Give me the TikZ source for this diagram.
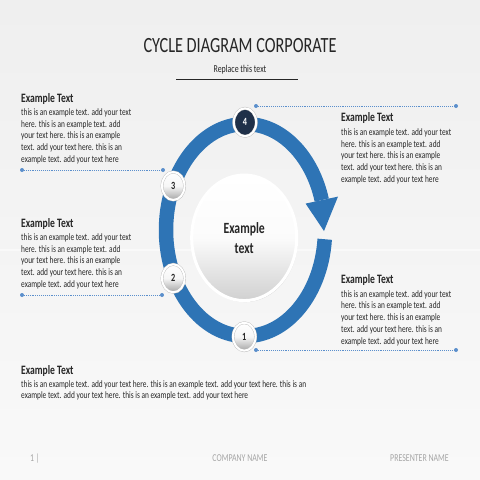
\documentclass[tikz,border=0pt]{standalone}
\usepackage{fontspec}
\setmainfont{Carlito}[FakeStretch=0.75]
\usetikzlibrary{shapes.geometric,shadows}
\definecolor{ringblue}{HTML}{2E74B5}
\definecolor{navy}{HTML}{1F3049}
\definecolor{connblue}{HTML}{5B8FCC}
\definecolor{txt}{HTML}{262626}
\definecolor{foot}{HTML}{A6A6A6}
\definecolor{bgtop}{HTML}{EFEFEF}
\definecolor{bgbot}{HTML}{F9F9F9}
\definecolor{mkgray}{HTML}{A5A5A5}
\definecolor{mkedge}{HTML}{BDBDBD}
\definecolor{hubgray}{HTML}{D0D0D0}
\newcommand\bodyfont{\fontsize{9.8}{11.7}\selectfont}
\newcommand\blocktext[1]{\parbox[t]{300pt}{\raggedright #1}}
\newcommand\stdtext{\blocktext{this is an example text. add your text\\here. this is an example text. add\\your text here. this is an example\\text. add your text here. this is an\\example text. add your text here}}
\begin{document}
\begin{tikzpicture}[x=1pt,y=-1pt,
  head/.style={anchor=base west, inner sep=0, font=\bfseries\fontsize{12.8}{14}\selectfont, text=txt},
  body/.style={anchor=base west, inner sep=0, font=\bodyfont, text=txt},
  marker/.style={ellipse, minimum width=22.5pt, minimum height=28pt, inner sep=0,
    draw=mkedge, double=white, double distance=2pt,
    top color=white, bottom color=mkgray, middle color=white!90!mkgray,
    drop shadow={opacity=0.3, shadow xshift=0.6pt, shadow yshift=-1.2pt},
    font=\bfseries\fontsize{11}{11}\selectfont, text=txt},
  darkmarker/.style={marker, top color=navy, bottom color=navy, middle color=navy, text=white},
  ring/.style={draw=ringblue, line width=14.5pt},
  conn/.style={draw=connblue, densely dotted, line width=0.9pt},
  enddot/.style={fill=connblue},
  foottext/.style={inner sep=0, font=\fontsize{10.5}{12}\selectfont, text=foot}
]
% background
\shade[top color=bgtop, bottom color=bgbot] (0,0) rectangle (480,480);
\useasboundingbox (0,0) rectangle (480,480);
\fill[white, opacity=0.5] (0,249) rectangle (480,251);

% title
\node[anchor=base, inner sep=0, font=\fontsize{21.7}{24}\selectfont, text=txt] (title) at (240,52) {CYCLE DIAGRAM CORPORATE};
\node[anchor=base, inner sep=0, font=\fontsize{10.5}{12}\selectfont, text=txt] (subtitle) at (240,72.5) {Replace this text};
\coordinate (ula) at (176,79.3);
\coordinate (ulb) at (298,79.3);
\draw[line width=1pt, draw=txt] (ula) -- (ulb);

% ring
\draw[ring] (245.5,230) ++(5:79.5 and 106) arc[start angle=5, end angle=343.6, x radius=79.5, y radius=106];
\fill[ringblue] (305.6,203.6) -- (338,196.6) -- (324,231) -- cycle;

% hub
\node[ellipse, minimum width=105pt, minimum height=125.6pt, inner sep=0, draw=white, line width=3pt,
  top color=white, bottom color=hubgray, middle color=white!92!hubgray,
  drop shadow={opacity=0.25, shadow xshift=1pt, shadow yshift=-1.5pt},
  align=center, font=\bfseries\fontsize{15.6}{19.7}\selectfont, text=txt] (hub) at (244.2,237.8) {Example\\text};

% connectors
\coordinate (c4a) at (256,106); \coordinate (c4b) at (456,106);
\coordinate (c3a) at (22,170);  \coordinate (c3b) at (163,170);
\coordinate (c2a) at (22,295);  \coordinate (c2b) at (162,295);
\coordinate (c1a) at (256,350); \coordinate (c1b) at (456,350);
\foreach \a/\b in {c4a/c4b,c3a/c3b,c2a/c2b,c1a/c1b}{
  \draw[conn] (\a) -- (\b);
  \fill[enddot] (\a) circle (2);
  \fill[enddot] (\b) circle (2);
}

% markers
\node[darkmarker] (m4) at (245,122.3) {4};
\node[marker] (m3) at (173.3,186) {3};
\node[marker] (m2) at (173.3,278.3) {2};
\node[marker] (m1) at (244.3,336.7) {1};

% text blocks
\node[head] (h1) at (21,102.7) {Example Text};
\node[body] (b1) at (21,115.5) {\stdtext};
\node[head] (h2) at (341,121.7) {Example Text};
\node[body] (b2) at (341,135.5) {\stdtext};
\node[head] (h3) at (21,227) {Example Text};
\node[body] (b3) at (21,240.5) {\stdtext};
\node[head] (h4) at (341,283.7) {Example Text};
\node[body] (b4) at (341,297.2) {\stdtext};
\node[head] (h5) at (21,374.4) {Example Text};
\node[body, font=\fontsize{9.8}{11}\selectfont] (b5) at (21,387.9) {\blocktext{this is an example text. add your text here. this is an example text. add your text here. this is an\\example text. add your text here. this is an example text. add your text here}};

% footer
\node[foottext, anchor=base west] (f1) at (30,461.5) {1 |};
\node[foottext, anchor=base] (f2) at (240,461.5) {COMPANY NAME};
\node[foottext, anchor=base east] (f3) at (449,461.5) {PRESENTER NAME};
\end{tikzpicture}
\end{document}
